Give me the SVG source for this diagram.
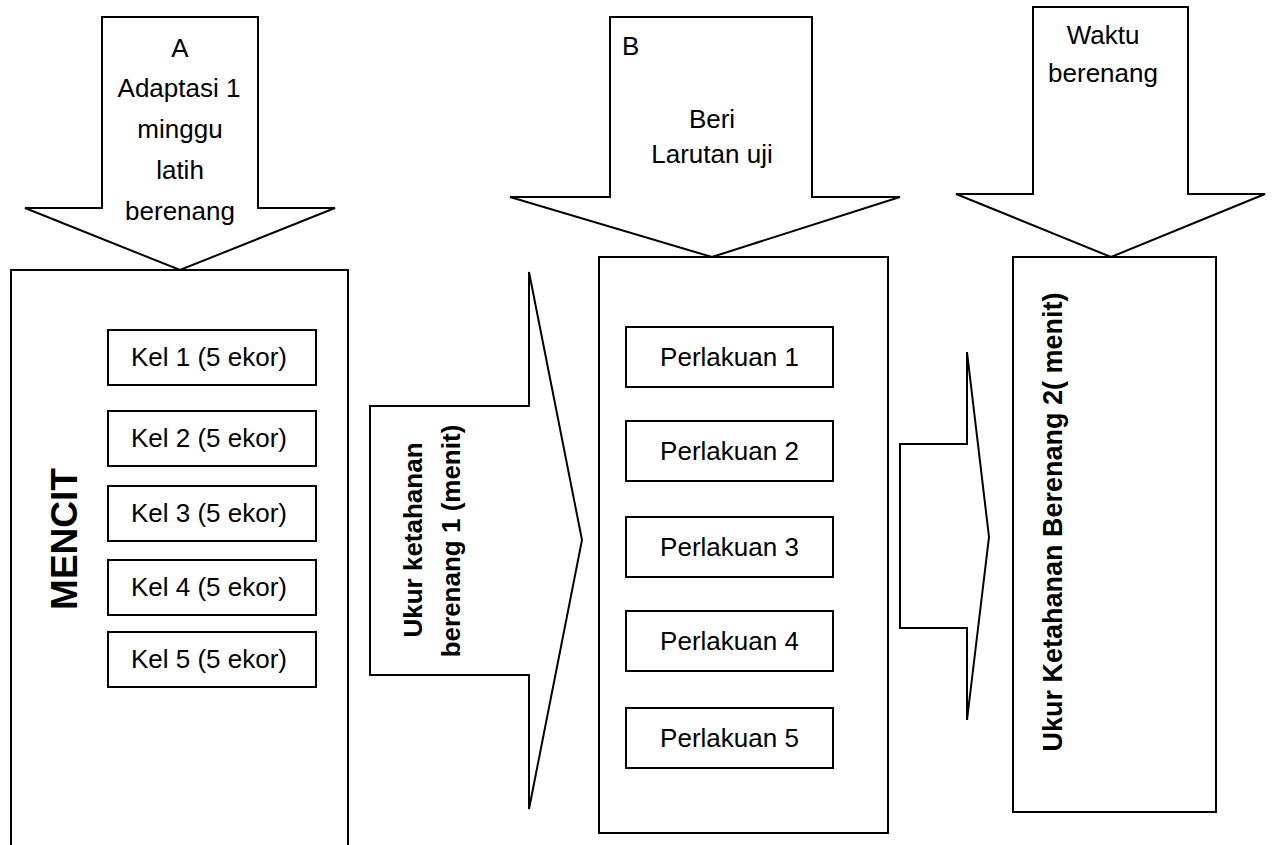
<svg xmlns="http://www.w3.org/2000/svg" width="1272" height="845" viewBox="0 0 1272 845">
<style>
.shape{fill:#fff;stroke:#000;stroke-width:2;stroke-linejoin:miter}
.t{font-family:"Liberation Sans",Arial,sans-serif;font-size:26px;fill:#000;text-anchor:middle}
.b{font-weight:bold}
</style>
<rect width="1272" height="845" fill="#fff"/>
<g id="connectors">
<g id="arrowA">
<polygon class="shape" points="102,17 258,17 258,208 335,208 180,270 25,208 102,208"/>
<text class="t" x="180" y="57">A</text>
<text class="t" x="179" y="97">Adaptasi 1</text>
<text class="t" x="180" y="138">minggu</text>
<text class="t" x="180" y="179">latih</text>
<text class="t" x="180" y="220">berenang</text>
</g>
<g id="arrowB">
<polygon class="shape" points="610,17 812,17 812,197 900,197 712,257 510,197 610,197"/>
<text class="t" x="622" y="55" style="text-anchor:start">B</text>
<text class="t" x="712" y="128">Beri</text>
<text class="t" x="712" y="163">Larutan uji</text>
</g>
<g id="arrowC">
<polygon class="shape" points="1033,7 1188,7 1188,194 1265,194 1111,257 956,194 1033,194"/>
<text class="t" x="1103" y="44">Waktu</text>
<text class="t" x="1103" y="82">berenang</text>
</g>
<g id="arrow1">
<polygon class="shape" points="370,406 529,406 529,272 582,540 529,809 529,675 370,675"/>
<text class="t b" transform="translate(422,540) rotate(-90)">Ukur ketahanan</text>
<text class="t b" transform="translate(460,541) rotate(-90)">berenang 1 (menit)</text>
</g>
<g id="arrow2">
<polygon class="shape" points="900,444 967,444 967,352 989,537 967,720 967,628 900,628"/>
</g>
</g>
<g id="mencit">
<rect class="shape" x="11" y="270" width="337" height="600"/>
<text class="t b" style="font-size:37px" transform="translate(77,539) rotate(-90)">MENCIT</text>
</g>
<g id="kel1"><rect class="shape" x="108" y="330" width="208" height="55"/><text class="t" x="209" y="366">Kel 1 (5 ekor)</text></g>
<g id="kel2"><rect class="shape" x="108" y="411" width="208" height="55"/><text class="t" x="209" y="447">Kel 2 (5 ekor)</text></g>
<g id="kel3"><rect class="shape" x="108" y="486" width="208" height="55"/><text class="t" x="209" y="522">Kel 3 (5 ekor)</text></g>
<g id="kel4"><rect class="shape" x="108" y="560" width="208" height="55"/><text class="t" x="209" y="596">Kel 4 (5 ekor)</text></g>
<g id="kel5"><rect class="shape" x="108" y="632" width="208" height="55"/><text class="t" x="209" y="668">Kel 5 (5 ekor)</text></g>
<g id="boxB">
<rect class="shape" x="599" y="257" width="289" height="576"/>
</g>
<g id="p1"><rect class="shape" x="626" y="327" width="207" height="60"/><text class="t" x="729.5" y="366">Perlakuan 1</text></g>
<g id="p2"><rect class="shape" x="626" y="421" width="207" height="60"/><text class="t" x="729.5" y="460">Perlakuan 2</text></g>
<g id="p3"><rect class="shape" x="626" y="517" width="207" height="60"/><text class="t" x="729.5" y="556">Perlakuan 3</text></g>
<g id="p4"><rect class="shape" x="626" y="611" width="207" height="60"/><text class="t" x="729.5" y="650">Perlakuan 4</text></g>
<g id="p5"><rect class="shape" x="626" y="708" width="207" height="60"/><text class="t" x="729.5" y="747">Perlakuan 5</text></g>
<g id="boxC">
<rect class="shape" x="1013" y="257" width="203" height="555"/>
<text class="t b" style="font-size:27px" transform="translate(1062,522) rotate(-90)">Ukur Ketahanan Berenang 2( menit)</text>
</g>
</svg>
